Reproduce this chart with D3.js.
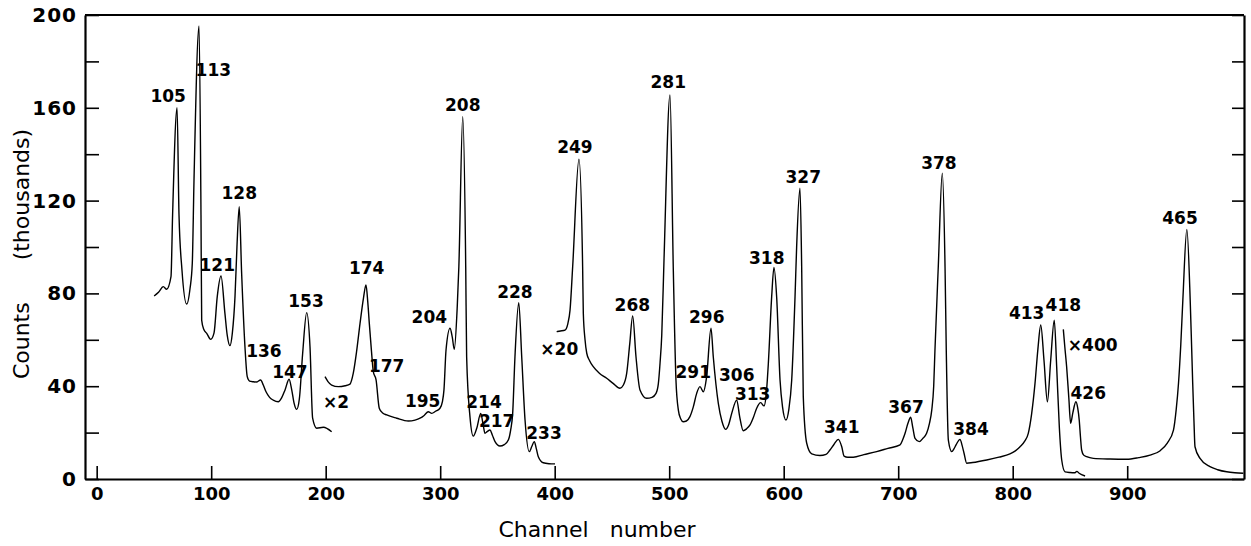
<!DOCTYPE html>
<html>
<meta charset="utf-8">
<title>Channel spectrum</title>
<script src="https://d3js.org/d3.v7.min.js"></script>
<style>
body { margin: 0; background: #fff; }
svg { display: block; }
text { font-family: "DejaVu Sans", sans-serif; fill: #000; }
.axis path, .axis line { stroke: #000; }
.axis path { stroke-width: 2.2; }
.axis line { stroke-width: 1.6; }
.axis text { font-weight: bold; }
.trace { fill: none; stroke: #000; stroke-width: 1.4; stroke-linejoin: round; }
.peak { font-size: 17px; font-weight: bold; text-anchor: middle; }
.title { font-size: 22px; }
</style>
<body>
<svg width="1251" height="546"></svg>
<script>
// channel, counts (thousands); each segment has its own gain
var seg1 = [[50.2,78.9],[54,80.5],[58.2,82.9],[61.1,81.8],[64.9,87.2],[66.3,113.8],[70.2,160],[71.9,113.8],[74.5,90],[78.6,75.4],[81.5,82],[83.5,93],[85,128.9],[89.4,195.3],[91.1,113.8],[91.7,68.5],[93.5,64.5],[96.1,62.8],[99.6,60.2],[102.5,63],[105.3,78.6],[108.6,87.5],[112,71.4],[114,62],[116.4,57.5],[118.5,63],[120.8,78.6],[122.5,100],[124.5,117.4],[126.6,88.7],[129.5,57],[131.5,44.1],[133.5,42.2],[136.8,41.9],[139.5,41.8],[143.2,42.7],[145.5,40.5],[147.9,37.6],[151,35.2],[154.2,34],[158.6,33.3],[161.5,35],[164.5,38.4],[168,43],[170.5,38],[172.5,32.5],[174.7,30],[177,34.5],[179.9,54.2],[183.4,71.7],[186.3,57],[188.6,26.2],[192.1,21.9],[198,22.3],[205.2,20.4]];

var seg2 = [[199.4,44.1],[202,42],[205.2,40.5],[211,39.8],[217,40.2],[221.2,40.9],[224.1,45.6],[227,55],[230,67.1],[233,78],[235.2,83.6],[236.8,76],[238.1,67.1],[240,55],[241.6,46.3],[244,42.7],[246.8,30.5],[249.5,28.6],[253.3,27.6],[262,26.2],[272.2,25],[278,25.4],[282.4,26.2],[286,27.4],[289.6,29],[292.6,28.3],[296,29.2],[299.8,30.5],[302,33.5],[303.3,38.4],[305.1,55.6],[308.6,65],[310.6,61],[312.3,55.9],[314.9,74.3],[316.3,91.5],[319.7,156.2],[322.3,91.5],[323.1,52.7],[326,26.9],[328.9,18.5],[332,22],[335.4,28.3],[337.5,23.5],[339.1,19.7],[341,20.4],[343.5,21.1],[345.5,19],[347.9,16.1],[352.2,14.2],[356,14.8],[359.5,16.8],[361.5,21],[363.3,28.3],[365.3,52.7],[368.6,76],[371.2,52.7],[374.1,25.4],[377.8,11.8],[380,14],[382.2,16.1],[384,13],[385.7,9.6],[390,7],[395,6.6],[400.3,6.5]];

var seg3 = [[401.7,63.5],[405,63.8],[409,64.2],[411.5,67],[413.4,72.8],[415.7,91.5],[421.2,137.8],[424.4,91.5],[425,71.4],[426.5,60],[428,54.2],[430.5,51],[433.7,48.4],[439,45.6],[445.4,43.4],[451,41.2],[457,39.1],[460,40.5],[462.9,45.6],[465.5,58],[468.1,70.3],[471,52.7],[474.5,38.4],[480.3,34.8],[485,35.2],[488.5,36.9],[490.5,41],[492,49.9],[493.5,62],[495.5,95],[500.7,165.5],[503.6,90],[505.9,42.7],[508,29.7],[510,26],[512.3,24.7],[515,25],[518.1,26.9],[521,31],[524,36.9],[526.9,39.8],[529.8,37.6],[532.7,44.1],[536.5,65],[538.5,52.7],[542.9,32.6],[546,25],[549.3,21.4],[552,23.5],[554.6,28.3],[559,34],[561.5,27],[564.7,20.8],[567.5,21.6],[570.6,23.3],[573.5,26.5],[576.4,30.5],[579.9,32.9],[582.8,31.5],[585,38],[586.6,49.9],[589.5,78.6],[591.5,91.2],[593.9,78],[596.8,42.7],[599,31],[602,25.4],[604.5,30],[607,42.7],[609.9,78.6],[611.3,100],[614.2,125.3],[615.7,91.5],[617.1,35.5],[620.1,15.4],[624.5,10.8],[631.6,10.1],[637,10.6],[640.4,12.5],[644,15],[647.7,17.1],[650.7,13.9],[652.7,9.9],[656,9.4],[660.8,9.4],[670,10.5],[681.2,11.8],[691,13.2],[701.6,14.7],[704,17],[706,19.7],[708.5,24],[710.9,26.6],[712.8,22],[714.7,17.5],[718.4,16.1],[721.5,17.5],[724.8,19.7],[727.3,24],[729.3,29.7],[731,40],[732.1,55.6],[735,91.5],[738.5,131.8],[740.9,91.5],[742,55],[743.8,16.8],[746.8,11.8],[748.7,13],[750.5,14.7],[754,17.1],[755.8,14.5],[757.5,11.1],[759.8,6.8],[765,7.1],[777.3,8.2],[788,9.4],[797.6,10.8],[802,12],[806.4,13.9],[810.5,16.3],[813.6,19.7],[816.5,28],[819.5,41.3],[822,56],[824.5,66.4],[827.3,51.3],[830.3,33.3],[833.2,51.3],[836.3,68.5],[838.4,48.4],[840.7,22.5],[842.8,8.2],[845.7,3.1],[850,2.8],[854.4,2.7],[856,3.3],[858,2.5],[863.2,1.3]];

var seg4 = [[844.2,64.5],[845.5,57],[847.1,48.4],[849,35],[850.6,24],[852.5,28.5],[855.2,33.3],[856.8,30.5],[858.1,25.4],[859.2,18],[860.2,12.5],[862,10.3],[864.6,9.6],[870.4,8.9],[885,8.6],[899.6,8.5],[910,9.2],[920,10.3],[928.8,12.2],[935,15.5],[940.4,21.1],[942.8,30],[944.8,41.3],[946.8,58],[948.6,77.2],[952.1,107.6],[955,77.2],[956.2,58],[957.2,41.3],[958.3,25],[959.2,13.9],[963.6,8.9],[972.3,5.3],[979,4],[986.9,3.1],[994,2.7],[1001.4,2.5]];

// label text, anchored at channel / count
var peakLabels = [["105",62.4,165.3],["113",101.9,176.3],["121",105.3,92.2],["128",124.5,123.4],["136",146.1,55.3],["147",168.8,46.3],["153",182.8,76.7],["174",235.8,90.8],["177",253.3,48.7],["195",284.7,33.8],["204",290.5,69.7],["208",319.7,161.2],["214",338.3,33.3],["217",349.3,25],["228",365.3,80.7],["233",390.7,20],["249",417.7,143.2],["268",467.8,75],["281",499.2,171.3],["291",521,46.3],["296",532.8,69.7],["306",559,44.8],["313",572.9,36.9],["318",585.2,95.1],["327",617.1,130.3],["341",650.7,22.5],["367",706.8,31.2],["378",735.6,136.1],["384",763.6,21.8],["413",812.2,71.4],["418",844.2,75],["426",866,37.2],["465",946.1,112.4]];
var gainLabels = [["×2",209,33.3],["×20",404,56.3],["×400",869.9,57.8]];

var xTicks = [0,100,200,300,400,500,600,700,800,900];
var yTicks = [0,20,40,60,80,100,120,140,160,180,200];
var yLabelled = [0,40,80,120,160,200];

var svg = d3.select("svg");
var mLeft = 85, mRight = 1244, mTop = 15, mBottom = 479;

var x = d3.scaleLinear().domain([-10.2, 1002]).range([mLeft, mRight]);
var y = d3.scaleLinear().domain([0, 200]).range([mBottom, mTop]);

var line = d3.line()
  .x(function(d){ return x(d[0]); })
  .y(function(d){ return y(d[1]); })
  .curve(d3.curveMonotoneX);

svg.selectAll(".trace")
  .data([seg1, seg2, seg3, seg4])
  .enter().append("path")
  .attr("class", "trace")
  .attr("d", line);

// frame top
svg.append("line")
  .attr("x1", mLeft).attr("x2", mRight)
  .attr("y1", mTop).attr("y2", mTop)
  .attr("stroke", "#000").attr("stroke-width", 2);

svg.append("g")
  .attr("class", "axis")
  .attr("transform", "translate(" + mLeft + ",0)")
  .style("font-size", "20px")
  .call(d3.axisLeft(y).tickValues(yTicks).tickSizeInner(-14).tickSizeOuter(0).tickPadding(8)
    .tickFormat(function(d){ return yLabelled.indexOf(d) >= 0 ? d : ""; }))
  .selectAll("text").attr("letter-spacing", "1px");

svg.append("g")
  .attr("class", "axis")
  .attr("transform", "translate(" + mRight + ",0)")
  .call(d3.axisRight(y).tickValues(yTicks).tickSizeInner(-12).tickSizeOuter(0).tickFormat(""));

svg.append("g")
  .attr("class", "axis")
  .attr("transform", "translate(0," + mBottom + ")")
  .style("font-size", "18px")
  .call(d3.axisBottom(x).tickValues(xTicks).tickSizeInner(-13).tickSizeOuter(0).tickPadding(8));

svg.selectAll(".axis text").style("font-family", "DejaVu Sans, sans-serif");

svg.selectAll(".peak")
  .data(peakLabels.concat(gainLabels))
  .enter().append("text")
  .attr("class", "peak")
  .attr("x", function(d){ return x(d[1]); })
  .attr("y", function(d){ return y(d[2]); })
  .attr("dy", "0.36em")
  .text(function(d){ return d[0]; });

svg.append("text")
  .attr("class", "title")
  .attr("x", 597).attr("y", 537)
  .attr("text-anchor", "middle")
  .style("white-space", "pre")
  .text("Channel   number");

svg.append("text")
  .attr("class", "title")
  .attr("transform", "translate(29,254) rotate(-90)")
  .attr("text-anchor", "middle")
  .style("white-space", "pre")
  .text("Counts      (thousands)");
</script>
</body>
</html>
